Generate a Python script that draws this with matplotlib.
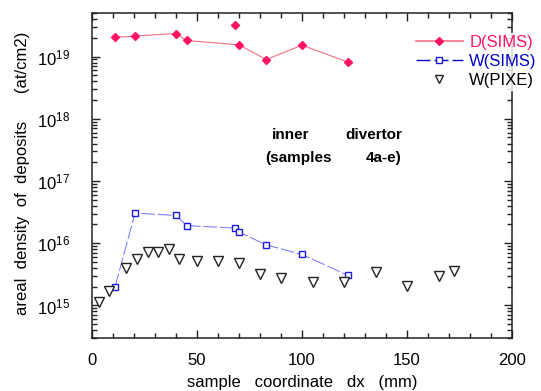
import numpy as np
import matplotlib
matplotlib.use('Agg')
import matplotlib.pyplot as plt
from matplotlib.lines import Line2D

plt.rcParams['font.family'] = ['Liberation Sans', 'DejaVu Sans']
plt.rcParams['mathtext.fontset'] = 'custom'
plt.rcParams['mathtext.rm'] = 'Liberation Sans'
plt.rcParams['mathtext.it'] = 'Liberation Sans'
plt.rcParams['mathtext.bf'] = 'Liberation Sans:bold'

# D(SIMS) - connected series
d_x = [11, 20.5, 40, 45, 70, 83, 100, 122]
d_y = [2.02e19, 2.13e19, 2.34e19, 1.81e19, 1.54e19, 8.95e18, 1.52e19, 8.1e18]
# D(SIMS) - lone point
d_x_extra = [68]
d_y_extra = [3.15e19]

# W(SIMS)
ws_x = [11, 20.5, 40, 45, 68, 70, 83, 100, 122]
ws_y = [2.0e15, 3.05e16, 2.79e16, 1.92e16, 1.75e16, 1.51e16, 9.4e15, 6.6e15, 3.03e15]

# W(PIXE)
wp_x = [3.5, 8, 16, 21.5, 26.5, 31.5, 36.5, 41.5, 50, 60, 70, 80, 90,
        105, 120, 135, 150, 165, 172.5]
wp_y = [1.13e15, 1.72e15, 3.93e15, 5.56e15, 7.2e15, 7.3e15, 8.15e15, 5.56e15,
        5.22e15, 5.09e15, 4.73e15, 3.19e15, 2.79e15, 2.38e15, 2.38e15,
        3.48e15, 2.07e15, 3.0e15, 3.6e15]

col_d = '#ff1464'
col_dline = '#f07080'
col_w = '#1a1ae6'
col_wline = '#7070ff'

fig = plt.figure(figsize=(5.41, 3.91), dpi=100)
ax = fig.add_axes([92/541, 53/391, 420/541, 325/391])

ax.plot(d_x, d_y, '-', color=col_dline, lw=0.8, marker='D', ms=4.5,
        mfc=col_d, mec=col_d, zorder=3)
ax.plot(d_x_extra, d_y_extra, 'D', ms=4.5, mfc=col_d, mec=col_d, zorder=3)
ax.plot(ws_x, ws_y, color=col_wline, lw=0.7, dashes=(14, 3), marker='s', ms=4.5,
        mfc='white', mec=col_w, mew=1.0, zorder=3)
ax.plot(wp_x, wp_y, 'v', ms=7, mfc='white', mec='#222222', mew=1.0,
        linestyle='none', zorder=3)

ax.set_yscale('log')
ax.set_xlim(0, 200)
ax.set_ylim(3e14, 5e19)
ax.set_xticks([0, 50, 100, 150, 200])
ax.set_xticks(np.arange(0, 201, 10), minor=True)

for s in ax.spines.values():
    s.set_linewidth(1.1)
    s.set_color('#222222')
ax.tick_params(which='both', direction='in', top=True, right=True,
               color='#222222', width=1.0)
ax.tick_params(which='major', length=6)
ax.tick_params(which='minor', length=3.5)
ax.tick_params(axis='x', which='major', labelsize=12, pad=11)
ax.tick_params(axis='y', which='major', labelsize=12, pad=16)

fig.text(23/541, 1 - 173/391,
         'areal  density  of  deposits      (at/cm2)',
         rotation=90, ha='center', va='center', fontsize=12)
fig.text(302/541, 1 - 383/391, 'sample   coordinate   dx   (mm)',
         ha='center', va='center', fontsize=12)

fig.text(272/541, 1 - 135/391, 'inner', ha='left', va='center',
         fontsize=11, fontweight='bold')
fig.text(402/541, 1 - 135/391, 'divertor', ha='right', va='center',
         fontsize=11, fontweight='bold')
fig.text(265/541, 1 - 158/391, '(samples', ha='left', va='center',
         fontsize=11, fontweight='bold')
fig.text(401/541, 1 - 158/391, '4a-e)', ha='right', va='center',
         fontsize=11, fontweight='bold')

handles = [
    Line2D([], [], color=col_dline, lw=1.2, marker='D', ms=4.5,
           mfc=col_d, mec=col_d),
    Line2D([], [], color='#0000cc', lw=1.0, dashes=(10, 3), marker='s', ms=4,
           mfc='white', mec=col_w),
    Line2D([], [], linestyle='none', marker='v', ms=6, mfc='white',
           mec='#222222'),
]
labels = ['D(SIMS)', 'W(SIMS)', 'W(PIXE)']
leg = fig.legend(handles, labels, loc='upper right',
                 bbox_to_anchor=(1.0, 1 - 31/391), fontsize=12,
                 handlelength=2.8, handletextpad=0.4, labelspacing=0.22,
                 borderpad=0.15, borderaxespad=0.1, frameon=True, fancybox=False,
                 labelcolor=[col_d, '#0000cc', 'black'])
leg.get_frame().set_facecolor('white')
leg.get_frame().set_edgecolor('white')
leg.set_zorder(10)

fig.savefig('out.png', dpi=100)
